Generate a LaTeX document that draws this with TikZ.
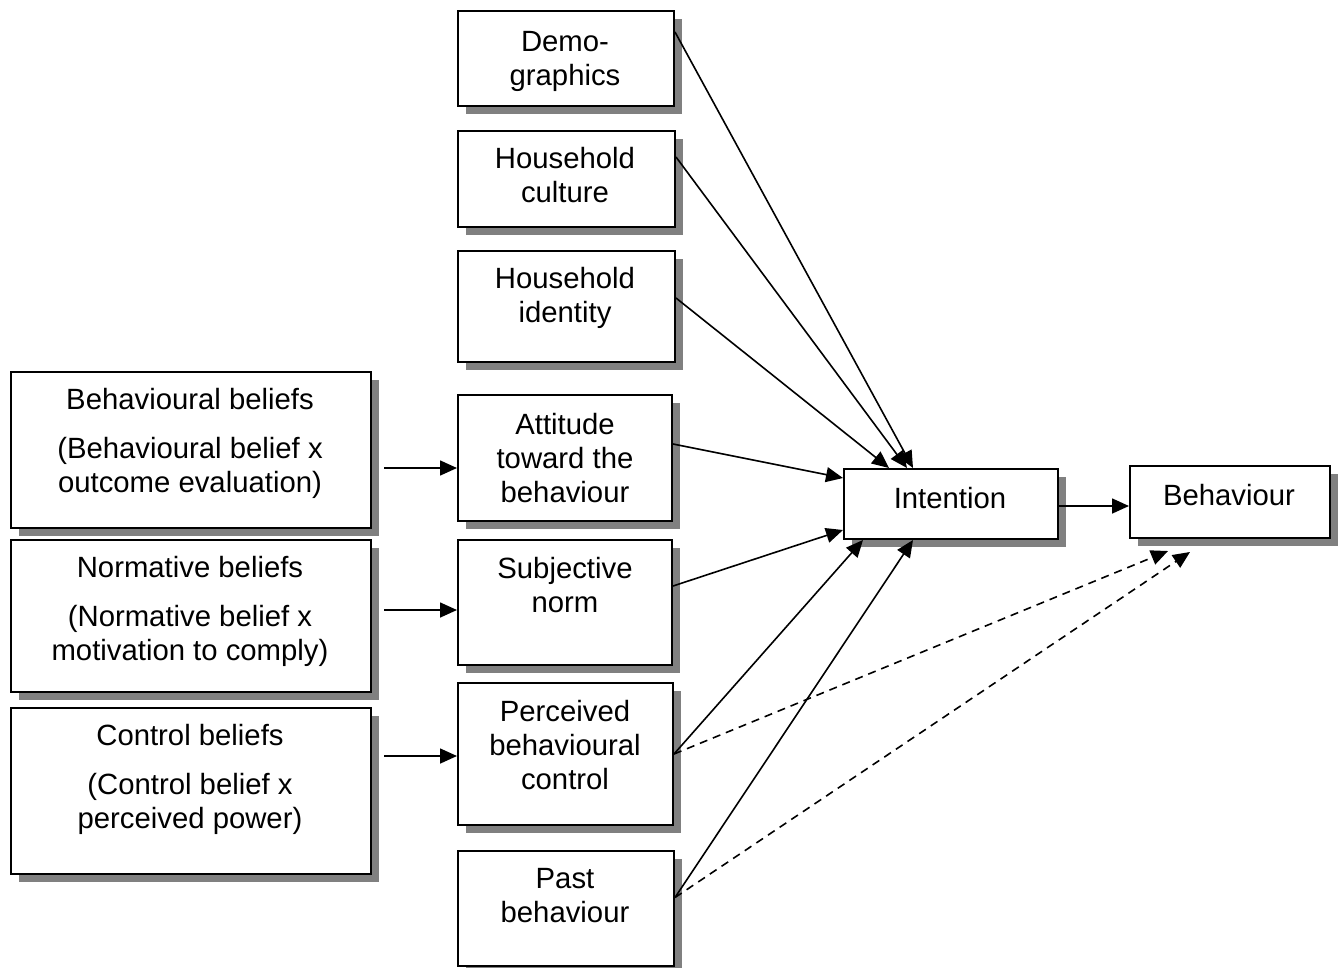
\documentclass[tikz,border=0pt]{standalone}
\usepackage{fontspec}
\setmainfont{Liberation Sans}
\usetikzlibrary{arrows.meta,shadows,calc}
\definecolor{shadowgray}{RGB}{128,128,128}
\tikzset{
  box/.style={draw=black, line width=2pt, fill=white, anchor=north west, inner sep=0pt,
    drop shadow={shadow xshift=8pt, shadow yshift=-8pt, fill=shadowgray, opacity=1}},
  lbl/.style={anchor=north, inner sep=0pt, align=center, font=\fontsize{29.3}{34}\selectfont},
  conn/.style={line width=1.6pt, -{Triangle[length=17pt,width=15pt]}},
  dconn/.style={conn, dash pattern=on 8pt off 6pt},
}
\begin{document}
\begin{tikzpicture}[x=1pt,y=-1pt]
\useasboundingbox (0,0) rectangle (1341,967);
% left boxes
\node[box, minimum width=360pt, minimum height=156pt] (bb) at (10,371) {};
\node[box, minimum width=360pt, minimum height=152pt] (nb) at (10,539) {};
\node[box, minimum width=360pt, minimum height=166pt] (cb) at (10,707) {};
% middle boxes
\node[box, minimum width=216pt, minimum height=95pt] (demo) at (457,10) {};
\node[box, minimum width=217pt, minimum height=96pt] (cult) at (457,130) {};
\node[box, minimum width=217pt, minimum height=111pt] (ident) at (457,250) {};
\node[box, minimum width=214pt, minimum height=126pt] (att) at (457,394) {};
\node[box, minimum width=214pt, minimum height=125pt] (subj) at (457,539) {};
\node[box, minimum width=215pt, minimum height=142pt] (pbc) at (457,682) {};
\node[box, minimum width=216pt, minimum height=115pt] (past) at (457,850) {};
% right boxes
\node[box, minimum width=214pt, minimum height=70pt] (int) at (843,468) {};
\node[box, minimum width=200pt, minimum height=72pt] (beh) at (1129,465) {};
% labels
\node[lbl] (tbb) at (190,388) {Behavioural beliefs\\[15pt](Behavioural belief x\\outcome evaluation)};
\node[lbl] (tnb) at (190,556) {Normative beliefs\\[15pt](Normative belief x\\motivation to comply)};
\node[lbl] (tcb) at (190,724) {Control beliefs\\[15pt](Control belief x\\perceived power)};
\node[lbl] (tdemo) at (565,31) {Demo-\\graphics};
\node[lbl] (tcult) at (565,147) {Household\\culture};
\node[lbl] (tident) at (565,267) {Household\\identity};
\node[lbl] (tatt) at (565,413) {Attitude\\toward the\\behaviour};
\node[lbl] (tsubj) at (565,557) {Subjective\\norm};
\node[lbl] (tpbc) at (565,700) {Perceived\\behavioural\\control};
\node[lbl] (tpast) at (565,868) {Past\\behaviour};
\node[lbl] (tint) at (950,487) {Intention};
\node[lbl] (tbeh) at (1229,484) {Behaviour};
% belief arrows
\draw[conn] ([xshift=12pt,yshift=-18pt]bb.east) -- ([yshift=-10pt]att.west);
\draw[conn] ([xshift=12pt,yshift=6pt]nb.east) -- ([yshift=-7.5pt]subj.west);
\draw[conn] ([xshift=12pt,yshift=35pt]cb.east) -- ([yshift=-2pt]pbc.west);
% to intention
\draw[conn] ([yshift=26.5pt]demo.east) -- ([xshift=-38pt]int.north);
\draw[conn] ([yshift=22pt]cult.east) -- ([xshift=-44pt]int.north);
\draw[conn] ([yshift=8.5pt]ident.east) -- ([xshift=-62pt]int.north);
\draw[conn] ([yshift=14pt]att.east) -- ([yshift=26pt]int.west);
\draw[conn] ([yshift=16.5pt]subj.east) -- ([yshift=-26pt]int.west);
\draw[conn] (pbc.east) -- ([xshift=-88pt]int.south);
\draw[conn] ([yshift=11pt]past.east) -- ([xshift=-38pt]int.south);
% intention to behaviour
\draw[conn] ([yshift=-2pt]int.east) -- ([yshift=-2pt]int.east -| beh.west);
% dashed to behaviour
\draw[dconn] (pbc.east) -- ([xshift=-62pt,yshift=-12pt]beh.south);
\draw[dconn] ([yshift=11pt]past.east) -- ([xshift=-40pt,yshift=-13pt]beh.south);
\end{tikzpicture}
\end{document}
